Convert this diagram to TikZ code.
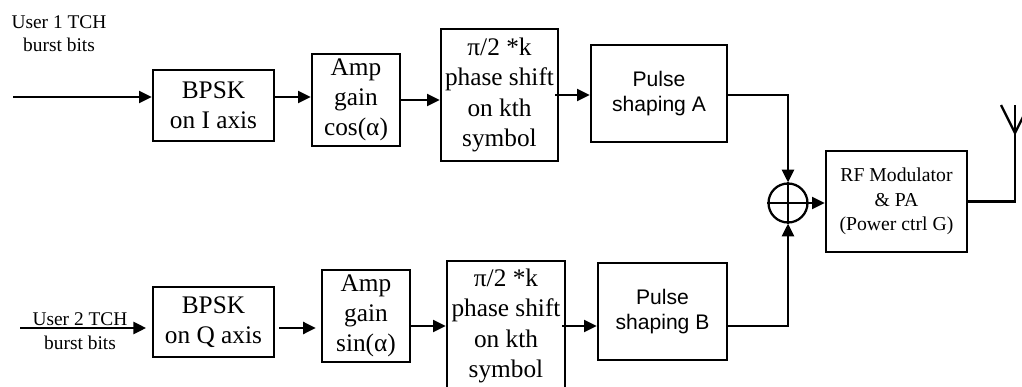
\documentclass[tikz,border=0pt]{standalone}
\usepackage{fontspec}
\setmainfont{Liberation Serif}
\newfontfamily\arialfont{Liberation Sans}
\usetikzlibrary{arrows.meta, calc}

\tikzset{
  blk/.style={draw, line width=1.8pt, inner sep=0pt, align=center, font=\fontsize{18}{21.5}\selectfont},
  sz/.style 2 args={minimum width=#1*0.025cm, minimum height=#2*0.025cm},
  pulsebox/.style={blk, font=\arialfont\fontsize{15}{17.7}\selectfont},
  arr/.style={line width=1.6pt, -{Triangle[length=9pt,width=8.5pt]}},
  wire/.style={line width=1.6pt},
  lbl/.style={align=center, inner sep=0pt, font=\fontsize{13.8}{16.5}\selectfont},
}

\begin{document}
\begin{tikzpicture}[x=0.025cm, y=-0.025cm]
  \useasboundingbox (0,0) rectangle (1022,387);
  \clip (0,0) rectangle (1022,387);

  % user 1, I branch
  \node[lbl] (lab1) at (59,34) {User 1 TCH\\burst bits};
  \coordinate (in1) at (13,97);
  \node[blk, sz={121}{71}] (bpskI) at (213.5,105.5) {BPSK\\on I axis};
  \node[blk, sz={88}{92}] (ampI) at (356,100) {Amp\\gain\\cos(α)};
  \node[blk, sz={117}{132}] (phaseI) at (499.5,95) {π/2 *k\\phase shift\\on kth\\symbol};
  \node[pulsebox, sz={136}{97}] (pulseA) at (659,93.5) {Pulse\\shaping A};

  % user 2, Q branch
  \node[lbl, font=\fontsize{13.8}{17.5}\selectfont] (lab2) at (80,331) {User 2 TCH\\burst bits};
  \coordinate (in2) at (20,328);
  \node[blk, sz={121}{70}] (bpskQ) at (213.5,322) {BPSK\\on Q axis};
  \node[blk, sz={88}{92}] (ampQ) at (366,316) {Amp\\gain\\sin(α)};
  \node[blk, sz={118}{130}] (phaseQ) at (506,326) {π/2 *k\\phase shift\\on kth\\symbol};
  \node[pulsebox, sz={129}{97}] (pulseB) at (662.5,311.5) {Pulse\\shaping B};

  % combiner and transmitter
  \node[draw, circle, line width=1.6pt, minimum size=39*0.025cm, inner sep=0pt] (sum) at (788,203) {};
  \draw[wire] (sum.north) -- (sum.south) (sum.west) -- (sum.east);
  \node[blk, sz={141}{101}, font=\fontsize{14}{17.4}\selectfont] (rf) at (896.5,201.5) {RF Modulator\\\& PA\\(Power ctrl G)};

  % antenna
  \coordinate (antTop) at (1015,105);
  \coordinate (antV) at (1015,133);
  \coordinate (antL) at (1001,105);
  \coordinate (antR) at (1029,105);

  % connections, upper row
  \draw[arr] (in1) -- (in1 -| bpskI.west);
  \draw[arr] (bpskI.east |- in1) -- (ampI.west |- in1);
  \draw[arr] (ampI.east) -- (ampI.east -| phaseI.west);
  \draw[arr] ($(phaseI.east)+(-4,0)$) -- (phaseI.east -| pulseA.west);
  \draw[arr] (pulseA.east |- phaseI.east) -| (sum.north);

  % connections, lower row
  \draw[arr, shorten >=4pt] (in2) -- (in2 -| bpskQ.west);
  \draw[arr, shorten <=3pt, shorten >=3.5pt] (bpskQ.east |- in2) -- (ampQ.west |- in2);
  \draw[arr] (ampQ.east |- phaseQ.west) -- (phaseQ.west);
  \draw[arr] ($(phaseQ.east)+(-4,0)$) -- (phaseQ.east -| pulseB.west);
  \draw[arr] (pulseB.east |- phaseQ.east) -| (sum.south);

  % to the transmitter
  \draw[arr] (sum.east) -- (sum.east -| rf.west);
  \draw[wire] (rf.east) -| (antTop);
  \draw[wire] (antL) -- (antV) -- (antR);
\end{tikzpicture}
\end{document}
